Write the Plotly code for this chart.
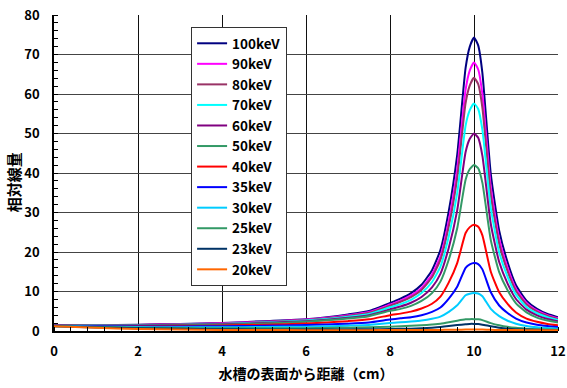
import plotly.graph_objects as go

# distance from water tank surface (cm)
x_cm = [0, 1, 2, 3, 4, 5, 6, 6.5, 7, 7.5, 8, 8.25, 8.5, 8.75, 9, 9.2, 9.4, 9.6, 9.8, 9.9,
        10, 10.1, 10.2, 10.4, 10.6, 10.8, 11, 11.25, 11.5, 11.75, 12]

kev100 = [1.4, 1.5, 1.6, 1.8, 2.0, 2.5, 3.0, 3.5, 4.2, 5.1, 7.1, 8.2, 9.6, 11.7, 15.4, 20.5, 30.4, 44.6, 66.6, 72.0,
          74.3, 72.3, 65.3, 39.7, 25.4, 17.4, 11.6, 7.7, 5.6, 4.3, 3.5]
kev90 = [1.35, 1.45, 1.55, 1.7, 1.95, 2.35, 2.9, 3.35, 4.0, 4.8, 6.7, 7.7, 9.0, 10.9, 14.3, 18.9, 28.0, 41.0, 61.1, 66.0,
         68.0, 66.2, 59.9, 36.4, 23.3, 16.0, 10.7, 7.1, 5.2, 4.0, 3.2]
kev80 = [1.35, 1.4, 1.5, 1.65, 1.85, 2.25, 2.8, 3.2, 3.8, 4.6, 6.4, 7.4, 8.6, 10.4, 13.6, 18.0, 26.5, 38.7, 57.7, 62.2,
         64.1, 62.5, 56.5, 34.4, 22.0, 15.1, 10.1, 6.7, 4.9, 3.8, 3.0]
kev70 = [1.3, 1.4, 1.45, 1.6, 1.8, 2.15, 2.65, 3.05, 3.6, 4.3, 6.0, 6.8, 7.9, 9.6, 12.4, 16.3, 24.0, 34.9, 52.0, 55.9,
         57.6, 56.2, 50.9, 31.1, 19.9, 13.7, 9.2, 6.1, 4.5, 3.5, 2.75]
kev60 = [1.3, 1.35, 1.4, 1.55, 1.7, 2.05, 2.5, 2.85, 3.35, 4.0, 5.45, 6.2, 7.15, 8.6, 11.05, 14.45, 21.1, 30.55, 45.3, 48.65,
         50.0, 48.9, 44.35, 27.1, 17.45, 12.0, 8.1, 5.4, 3.95, 3.05, 2.45]
kev50 = [1.3, 1.3, 1.35, 1.45, 1.6, 1.9, 2.35, 2.7, 3.15, 3.75, 5.1, 5.6, 6.35, 7.6, 9.6, 12.5, 18.1, 26.0, 38.3, 41.0,
         42.0, 41.2, 37.5, 23.0, 14.9, 10.3, 7.0, 4.7, 3.4, 2.65, 2.15]
kev40 = [1.3, 1.25, 1.25, 1.3, 1.4, 1.6, 1.9, 2.15, 2.5, 2.95, 4.0, 4.4, 4.9, 5.7, 6.9, 8.7, 12.3, 17.2, 24.8, 26.3,
         26.9, 26.4, 24.2, 15.0, 9.8, 6.85, 4.7, 3.15, 2.35, 1.8, 1.45]
kev35 = [1.3, 1.2, 1.15, 1.15, 1.2, 1.3, 1.5, 1.65, 1.85, 2.15, 2.9, 3.2, 3.5, 4.0, 4.85, 5.95, 8.2, 11.2, 16.0, 16.85,
         17.2, 16.95, 15.6, 9.8, 6.45, 4.55, 3.15, 2.15, 1.6, 1.26, 1.0]
kev30 = [1.25, 1.1, 1.0, 0.95, 0.95, 1.0, 1.1, 1.2, 1.35, 1.55, 2.05, 2.2, 2.4, 2.65, 3.1, 3.65, 4.85, 6.5, 9.05, 9.45,
         9.6, 9.5, 8.8, 5.6, 3.75, 2.6, 1.85, 1.25, 0.92, 0.73, 0.58]
kev25 = [1.2, 1.0, 0.85, 0.75, 0.7, 0.7, 0.72, 0.78, 0.85, 0.95, 1.1, 1.2, 1.3, 1.45, 1.65, 1.85, 2.2, 2.6, 2.95, 3.0,
         3.0, 2.95, 2.75, 2.0, 1.45, 1.05, 0.8, 0.6, 0.45, 0.38, 0.32]
kev23 = [1.2, 0.9, 0.7, 0.55, 0.45, 0.4, 0.38, 0.38, 0.4, 0.45, 0.5, 0.55, 0.6, 0.7, 0.85, 1.0, 1.25, 1.5, 1.7, 1.8,
         1.8, 1.75, 1.6, 1.2, 0.85, 0.6, 0.45, 0.35, 0.3, 0.25, 0.22]
kev20 = [1.2, 0.8, 0.5, 0.35, 0.28, 0.25, 0.22, 0.22, 0.22, 0.22, 0.23, 0.23, 0.24, 0.25, 0.27, 0.28, 0.3, 0.33, 0.36, 0.38,
         0.38, 0.37, 0.35, 0.3, 0.27, 0.25, 0.23, 0.22, 0.21, 0.2, 0.2]

series_names = ["100keV", "90keV", "80keV", "70keV", "60keV", "50keV",
                "40keV", "35keV", "30keV", "25keV", "23keV", "20keV"]
series_values = [kev100, kev90, kev80, kev70, kev60, kev50,
                 kev40, kev35, kev30, kev25, kev23, kev20]
series_colors = ["#000080", "#FF00FF", "#993366", "#00FFFF", "#800080", "#339966",
                 "#FF0000", "#0000FF", "#00CCFF", "#339966", "#003366", "#FF6600"]

x_ticks = [0, 2, 4, 6, 8, 10, 12]
y_ticks = [0, 10, 20, 30, 40, 50, 60, 70, 80]
y_title = "相対線量"
x_title = "水槽の表面から距離（cm）"

FONT = "Noto Sans CJK JP"

fig = go.Figure()
for name, vals, col in zip(series_names, series_values, series_colors):
    fig.add_trace(go.Scatter(
        x=x_cm, y=vals, name=name, mode="lines",
        line=dict(color=col, width=2, shape="spline", smoothing=0.5),
    ))

fig.update_layout(
    width=567, height=388,
    margin=dict(l=54, r=9, t=15, b=57),
    paper_bgcolor="white", plot_bgcolor="white",
    font=dict(family=FONT, color="black", size=13, weight="bold"),
    showlegend=True,
    legend=dict(
        x=0.272, y=0.962, xanchor="left", yanchor="top",
        bgcolor="white", bordercolor="#333333", borderwidth=1,
        font=dict(family=FONT, size=13.5, color="black", weight="bold"),
        tracegroupgap=0, itemwidth=30,
    ),
    xaxis=dict(
        range=[0, 12], tickvals=x_ticks, ticktext=[str(v) for v in x_ticks],
        showgrid=True, gridcolor="#111111", gridwidth=1,
        showline=True, linecolor="black", linewidth=1.5,
        ticks="", zeroline=False, automargin=False, ticklabeloverflow="allow",
        tickfont=dict(family=FONT, size=13, weight="bold"),
        ticklabelstandoff=8,
        minor=dict(dtick=0.4, tick0=0, ticks="inside", ticklen=4, tickcolor="black", showgrid=False),
        title=dict(text=x_title, font=dict(family=FONT, size=14, weight="bold"), standoff=10),
    ),
    yaxis=dict(
        range=[0, 80], tickvals=y_ticks, ticktext=[str(v) for v in y_ticks],
        showgrid=True, gridcolor="#444444", gridwidth=1,
        showline=True, linecolor="black", linewidth=1.5,
        ticks="", zeroline=False, automargin=False, ticklabeloverflow="allow",
        tickfont=dict(family=FONT, size=13, weight="bold"),
        ticklabelstandoff=10,
        minor=dict(dtick=2, tick0=0, ticks="inside", ticklen=4, tickcolor="black", showgrid=False),
    ),
    annotations=[dict(
        text=y_title, textangle=-90, xref="paper", yref="paper",
        x=-0.080, y=0.47, xanchor="center", yanchor="middle", showarrow=False,
        font=dict(family=FONT, size=15, weight="bold", color="black"),
    )],
)

# remove the browser's default 8px body margin so the figure fills the window
fig.write_html("out.html", config={"displayModeBar": False},
               post_script="document.body.style.margin='0';")
